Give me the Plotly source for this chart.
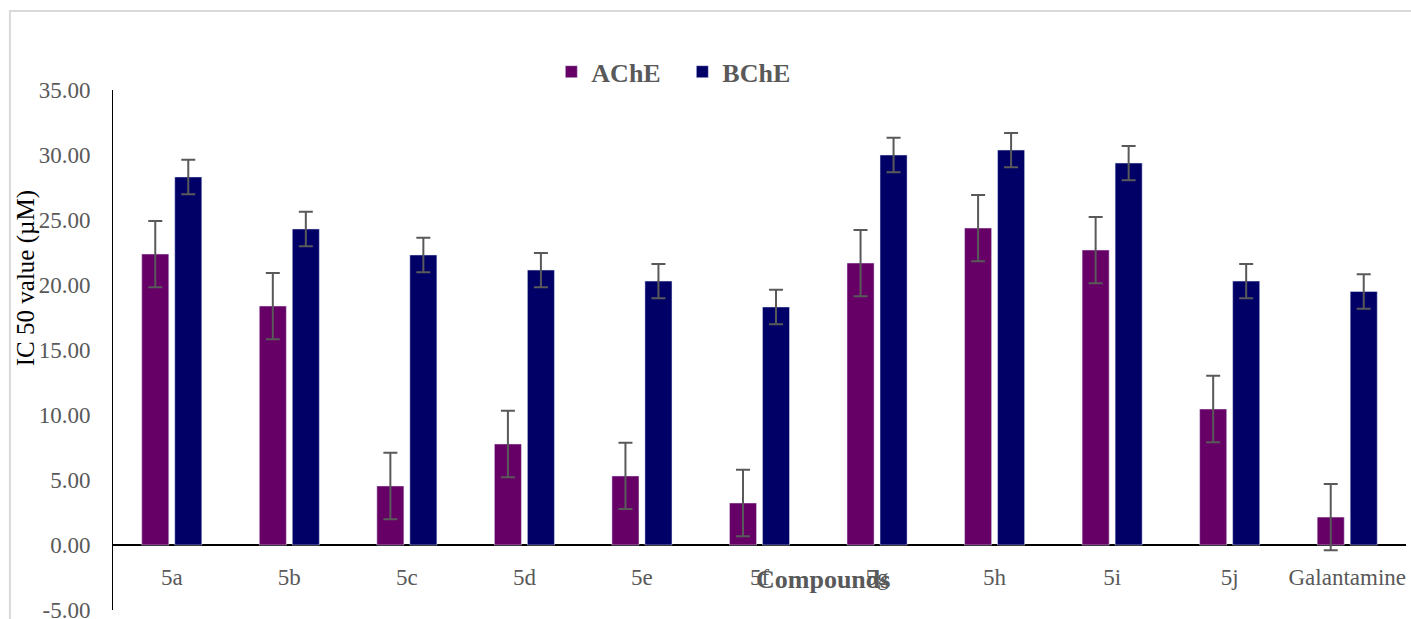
import plotly.graph_objects as go

compounds = ["5a", "5b", "5c", "5d", "5e", "5f", "5g", "5h", "5i", "5j", "Galantamine"]
ache = [22.38, 18.38, 4.54, 7.77, 5.31, 3.23, 21.69, 24.38, 22.69, 10.46, 2.15]
bche = [28.31, 24.31, 22.31, 21.15, 20.30, 18.31, 30.00, 30.38, 29.38, 20.30, 19.50]
ache_err = [2.55] * 11
bche_err = [1.32] * 11
ytick_values = [-5, 0, 5, 10, 15, 20, 25, 30, 35]
ytick_labels = ["-5.00", "0.00", "5.00", "10.00", "15.00", "20.00", "25.00", "30.00", "35.00"]

FONT = "Liberation Serif"
GRAY = "#595959"

fig = go.Figure()
fig.add_trace(go.Bar(
    name="AChE", x=compounds, y=ache, marker_color="#660066",
    error_y=dict(type="data", array=ache_err, color=GRAY, thickness=2, width=7),
))
fig.add_trace(go.Bar(
    name="BChE", x=compounds, y=bche, marker_color="#000066",
    error_y=dict(type="data", array=bche_err, color=GRAY, thickness=2, width=7),
))

fig.update_layout(
    width=1411, height=619,
    margin=dict(l=113, r=5, t=90, b=9),
    paper_bgcolor="white", plot_bgcolor="white",
    barmode="group", bargap=0.4385, bargroupgap=0.18,
    font=dict(family=FONT, color=GRAY),
    showlegend=True,
    legend=dict(
        orientation="h", x=0.339, xanchor="left", y=1.035, yanchor="middle",
        font=dict(family=FONT, size=26, color=GRAY, weight="bold"),
        entrywidth=86, entrywidthmode="pixels", bgcolor="rgba(0,0,0,0)",
    ),
    xaxis=dict(
        anchor="free", position=0.125, showline=False, ticks="", showgrid=False,
        tickfont=dict(family=FONT, size=23, color=GRAY), ticklabelstandoff=16,
        automargin=False,
    ),
    yaxis=dict(
        range=[-5, 35], tickvals=ytick_values, ticktext=ytick_labels,
        showgrid=False, showline=True, linecolor="black", linewidth=1,
        zeroline=True, zerolinecolor="black", zerolinewidth=2,
        ticks="", tickfont=dict(family=FONT, size=23, color=GRAY),
        ticklabelstandoff=17, ticklabeloverflow="allow", automargin=False,
    ),
    shapes=[dict(
        type="rect", xref="paper", yref="paper",
        x0=-0.0797, x1=1.3, y0=-0.3, y1=1.1519,
        line=dict(color="#d9d9d9", width=2), fillcolor="rgba(0,0,0,0)", layer="below",
    )],
    annotations=[
        dict(text="Compounds", xref="paper", yref="paper", x=0.549, y=0.0577,
             xanchor="center", yanchor="middle", showarrow=False,
             font=dict(family=FONT, size=26, color=GRAY, weight="bold")),
        dict(text="IC 50 value (µM)", xref="paper", yref="paper", x=-0.0673, y=0.638,
             xanchor="center", yanchor="middle", showarrow=False, textangle=-90,
             font=dict(family=FONT, size=25, color="black")),
    ],
)

fig.write_html(
    "out.html",
    config={"displayModeBar": False},
    post_script="document.body.style.margin='0';document.body.style.overflow='hidden';",
)
